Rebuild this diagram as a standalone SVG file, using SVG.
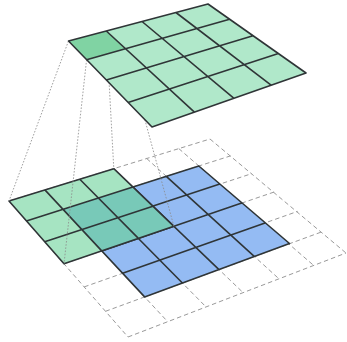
<svg xmlns="http://www.w3.org/2000/svg" width="347" height="342" viewBox="0 0 347 342">
  <style>
    .pad { fill: none; stroke: #9a9a9a; stroke-width: 1; stroke-dasharray: 4.5 3; }
    .cell-line { fill: none; stroke: #2f3537; stroke-width: 1.6; stroke-linejoin: round; }
    .blue { fill: #94bbf3; }
    .kgreen { fill: #a6e4c2; }
    .overlap { fill: #78c9b8; }
    .ogreen { fill: #b0e8ca; }
    .odark { fill: #80d3a3; }
    .proj { fill: none; stroke: #8a8a8a; stroke-width: 0.8; stroke-dasharray: 1.6 1.6; }
  </style>

  <!-- padded 6x6 input plane (dashed) -->
  <g id="padding-grid" class="pad">
    <path d="M9,201 L128,337 M44.9,189.9 L167.8,321.8 M79.8,179.2 L206.2,307.1 M113.8,168.7 L243.4,292.9 M146.7,158.5 L279.4,279.2 M178.8,148.6 L314.2,265.9 M210,139 L346,253"/>
    <path d="M9,201 L210,139 M26.4,220.9 L230.5,155.9 M44.7,241.8 L251.8,173.6 M64,263.8 L274.2,192 M84.2,286.9 L297.6,211.4 M105.5,311.3 L322.2,231.7 M128,337 L346,253"/>
  </g>

  <!-- 4x4 input -->
  <g id="input">
    <polygon class="blue" points="63,209.3 198.8,166 289.5,243.5 144.6,296.9"/>
    <path class="cell-line" d="M63,209.3 L198.8,166 L289.5,243.5 L144.6,296.9 Z M98.4,198 L182.4,283 M132.9,187 L219,269.6 M166.3,176.3 L254.5,256.6 M81.9,229.6 L219.8,184.1 M101.7,250.9 L241.7,203.1 M122.6,273.3 L265,223"/>
  </g>

  <!-- 3x3 kernel at the top-left position -->
  <g id="kernel">
    <polygon class="kgreen" points="9,201 113.8,168.7 173.9,226.3 64,263.8"/>
    <polygon class="overlap" points="63,209.3 132.9,187 173.9,226.3 101.7,250.9"/>
    <path class="cell-line" d="M9,201 L113.8,168.7 L173.9,226.3 L64,263.8 Z M44.9,189.9 L101.7,250.9 M79.8,179.2 L138.4,238.4 M26.4,220.9 L132.9,187 M44.7,241.8 L152.9,206.2"/>
  </g>

  <!-- projection of the kernel onto the first output cell -->
  <g id="projection-lines" class="proj">
    <line x1="68.5" y1="41" x2="9" y2="201"/>
    <line x1="106.3" y1="31" x2="113.8" y2="168.7"/>
    <line x1="86.6" y1="59.7" x2="64" y2="263.8"/>
    <line x1="125.5" y1="48.7" x2="173.9" y2="226.3"/>
  </g>

  <!-- 4x4 output -->
  <g id="output">
    <polygon class="ogreen" points="68.5,41 208,4 306,73 152,127"/>
    <polygon class="odark" points="68.5,41 106.3,31 125.5,48.7 86.6,59.7"/>
    <path class="cell-line" d="M68.5,41 L208,4 L306,73 L152,127 Z M106.3,31 L194.4,112.1 M142,21.5 L234,98.3 M175.9,12.5 L271.1,85.2 M86.6,59.7 L229.6,19.2 M106.4,80.1 L253,35.7 M128.1,102.4 L278.4,53.6"/>
  </g>
</svg>
